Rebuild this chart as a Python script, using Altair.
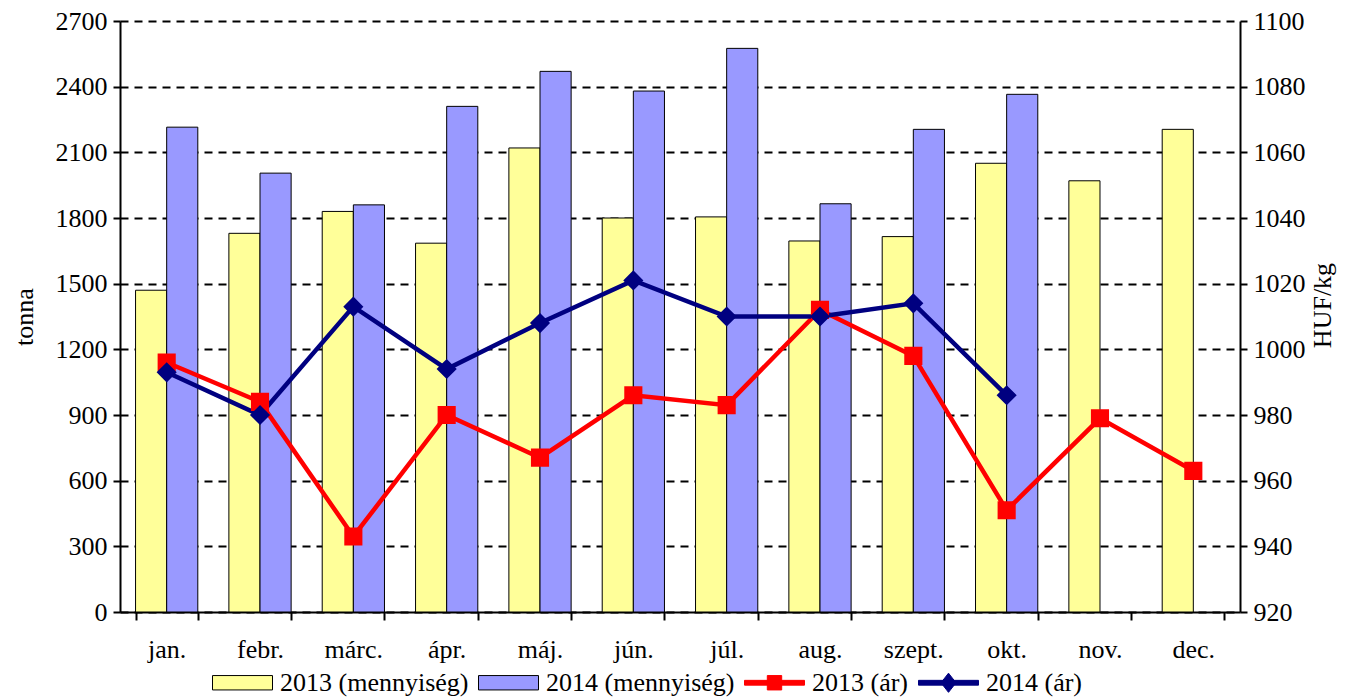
import altair as alt
import pandas as pd

months = ["jan.", "febr.", "márc.", "ápr.", "máj.", "jún.", "júl.", "aug.", "szept.", "okt.", "nov.", "dec."]
series = ["2013 (mennyiség)", "2014 (mennyiség)", "2013 (ár)", "2014 (ár)"]

q2013 = [1470, 1730, 1830, 1685, 2120, 1800, 1805, 1695, 1715, 2050, 1970, 2205]
q2014 = [2215, 2005, 1860, 2310, 2470, 2380, 2575, 1865, 2205, 2365, None, None]
p2013 = [996, 984, 943, 980, 967, 986, 983, 1012, 998, 951, 979, 963]
p2014 = [993, 980, 1013, 994, 1008, 1021, 1010, 1010, 1014, 986, None, None]

left_ticks = list(range(0, 2701, 300))
right_ticks = list(range(920, 1101, 20))

FONT = "Liberation Serif"
FS = 26

def long(vals, name):
    return [{"month": m, "series": name, "value": v} for m, v in zip(months, vals) if v is not None]

bars_df = pd.DataFrame(long(q2013, series[0]) + long(q2014, series[1]))
price_df = pd.DataFrame(long(p2013, series[2]) + long(p2014, series[3]))
p13_df = pd.DataFrame(long(p2013, series[2]))
p14_df = pd.DataFrame(long(p2014, series[3]))

colors = ["#FFFF99", "#9999FF", "#FF0000", "#000080"]
# mark colour scale (no legend); listed in another order so it stays apart from the legend scales
color_scale = alt.Scale(domain=series[2:] + series[:2], range=colors[2:] + colors[:2])
fill_scale = alt.Scale(domain=series, range=colors)
stroke_scale = alt.Scale(domain=series, range=["#000000", "#000000", "#FF0000", "#000080"])
shape_scale = alt.Scale(
    domain=series,
    range=[
        "M-1,-0.24H1V0.24H-1Z",
        "M-1,-0.24H1V0.24H-1Z",
        "M-1,-0.08H1V0.08H-1Z M-0.24,-0.24H0.24V0.24H-0.24Z",
        "M-1,-0.08H1V0.08H-1Z M0,-0.32L0.25,0L0,0.32L-0.25,0Z",
    ],
)

x_enc = alt.X(
    "month:N",
    sort=months,
    scale=alt.Scale(domain=months, paddingInner=0.333, paddingOuter=0.1667),
    axis=alt.Axis(
        title=None, labelFont=FONT, labelFontSize=FS, labelColor="black", labelAngle=0,
        labelPadding=16, tickSize=8, tickWidth=2, tickColor="black", tickBand="extent",
        domainColor="black", domainWidth=2, grid=False,
    ),
)

y_left = alt.Y(
    "value:Q",
    scale=alt.Scale(domain=[0, 2700], nice=False, zero=True),
    axis=alt.Axis(
        orient="left", values=left_ticks, format="d", title="tonna", titleFont=FONT, titleFontSize=FS,
        titleFontWeight="normal", titleColor="black", titlePadding=18,
        labelFont=FONT, labelFontSize=FS, labelColor="black", labelPadding=6,
        tickSize=7, tickWidth=2, tickColor="black", domainColor="black", domainWidth=2,
        grid=True, gridColor="black", gridDash=[8, 6], gridWidth=2,
    ),
)

right_axis = alt.Axis(
    orient="right", values=right_ticks, format="d", title="HUF/kg", titleFont=FONT, titleFontSize=FS,
    titleFontWeight="normal", titleColor="black", titlePadding=4, titleAngle=270, titleBaseline="top",
    titleY=284,
    labelFont=FONT, labelFontSize=FS, labelColor="black", labelPadding=6,
    tickSize=7, tickWidth=2, tickColor="black", domainColor="black", domainWidth=2, grid=False,
)
y_right = alt.Y("value:Q", scale=alt.Scale(domain=[920, 1100], nice=False, zero=False), axis=right_axis)

legend = alt.Legend(
    orient="none", legendX=92, legendY=631, direction="horizontal", title=None,
    labelFont=FONT, labelFontSize=FS, labelColor="black", labelLimit=0,
    symbolSize=3600, symbolStrokeWidth=1, symbolOpacity=1, labelOffset=7, columnPadding=7,
)

bars = alt.Chart(bars_df).mark_bar(stroke="black", strokeWidth=1).encode(
    x=x_enc,
    xOffset=alt.XOffset("series:N", sort=series[:2], scale=alt.Scale(paddingInner=0, paddingOuter=0)),
    y=y_left,
    color=alt.Color("series:N", scale=color_scale, legend=None),
)

lines = alt.Chart(price_df).mark_line(strokeWidth=4.5).encode(
    x=x_enc,
    y=y_right,
    color=alt.Color("series:N", scale=color_scale, legend=None),
)

sq = alt.Chart(p13_df).mark_point(shape="square", filled=True, size=260, opacity=1).encode(
    x=x_enc, y=y_right, fill=alt.value("#FF0000"), stroke=alt.value("#FF0000")
)
dm = alt.Chart(p14_df).mark_point(shape="diamond", filled=True, size=300, opacity=1).encode(
    x=x_enc, y=y_right, fill=alt.value("#000080"), stroke=alt.value("#000080")
)

leg_layer = alt.Chart(price_df).mark_point(filled=True, opacity=0).encode(
    x=x_enc,
    y=y_right,
    fill=alt.Fill("series:N", scale=fill_scale, legend=legend),
    stroke=alt.Stroke("series:N", scale=stroke_scale, legend=legend),
    shape=alt.Shape("series:N", scale=shape_scale, legend=legend),
)

price = alt.layer(lines, sq, dm, leg_layer)

chart = alt.layer(bars, price).resolve_scale(y="independent").properties(
    width=1120,
    height=591,
    autosize=alt.AutoSizeParams(type="none"),
    padding={"left": 112, "top": 13, "right": 102, "bottom": 86},
    background="white",
).configure_view(stroke=None)

chart.save("out.html", embed_options={"renderer": "svg", "actions": False})
